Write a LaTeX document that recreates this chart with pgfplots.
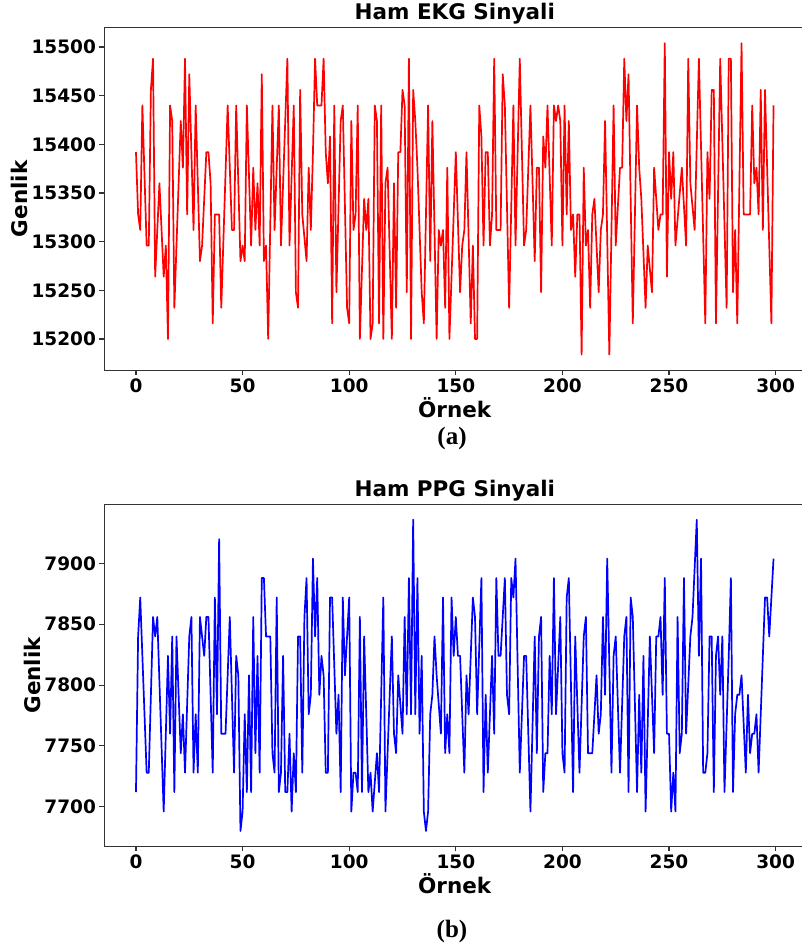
\documentclass[border=0pt]{standalone}
\usepackage{fontspec}
\setmainfont{DejaVu Sans}
\newfontfamily\serifb{Liberation Serif}
\usepackage{pgfplots}
\pgfplotsset{compat=1.18}
\begin{document}
\begin{tikzpicture}
\pgfplotsset{
 panel/.style={
  scale only axis, width=701.3pt, height=342.5pt, anchor=south west,
  xmin=-14.95, xmax=313.95,
  xtick={0,50,100,150,200,250,300}, xticklabels={0,50,100,150,200,250,300},
  scaled x ticks=false, scaled y ticks=false,
  tick align=outside, major tick length=4.7pt,
  xtick pos=bottom, ytick pos=left,
  tick style={black!80, line width=1.1pt},
  axis line style={black!80, line width=1.1pt},
  ticklabel style={font=\fontsize{18.5}{22}\selectfont\bfseries},
  label style={font=\fontsize{21.5}{25}\selectfont\bfseries},
  xlabel style={yshift=2pt},
  ylabel style={yshift=-3pt},
  xlabel={Örnek}, ylabel={Genlik},
 }}
\begin{axis}[panel, name=top, at={(104.1pt,580.9pt)},
  ymin=15168, ymax=15520,
  ytick={15200,15250,15300,15350,15400,15450,15500},
  yticklabels={15200,15250,15300,15350,15400,15450,15500}]
\addplot[color=red, line width=1.7pt, line join=round] coordinates {
(0,15392)(1,15328)(2,15312)(3,15440)(5,15296)(6,15296)(7,15456)(8,15488)(9,15264)(11,15360)(13,15264)(14,15296)(15,15200)(16,15440)(17,15424)(18,15232)(21,15424)(22,15376)(23,15488)(24,15328)(25,15472)(27,15312)(28,15440)(30,15280)(31,15296)(33,15392)(34,15392)(35,15360)(36,15216)(37,15328)(38,15328)(39,15328)(40,15232)(43,15440)(45,15312)(46,15312)(47,15440)(49,15280)(50,15296)(51,15280)(52,15440)(54,15296)(55,15376)(56,15312)(57,15360)(58,15296)(59,15472)(60,15280)(61,15296)(62,15200)(64,15440)(65,15312)(67,15440)(68,15296)(71,15488)(72,15296)(74,15440)(75,15248)(76,15232)(77,15456)(78,15328)(80,15280)(81,15376)(82,15312)(83,15392)(84,15488)(85,15440)(86,15440)(87,15440)(88,15488)(89,15392)(90,15360)(91,15408)(92,15216)(93,15440)(94,15248)(96,15424)(97,15440)(99,15232)(100,15216)(101,15424)(102,15312)(103,15328)(104,15440)(105,15200)(107,15344)(108,15312)(109,15344)(110,15200)(111,15216)(112,15440)(113,15424)(114,15216)(115,15440)(116,15200)(117,15360)(118,15376)(120,15200)(121,15360)(122,15232)(123,15392)(124,15392)(125,15456)(126,15440)(127,15248)(128,15488)(129,15200)(130,15456)(131,15424)(132,15376)(133,15312)(134,15248)(135,15216)(137,15440)(138,15280)(139,15424)(141,15200)(142,15312)(143,15296)(144,15312)(145,15232)(146,15376)(147,15200)(150,15392)(152,15248)(153,15296)(154,15312)(155,15392)(157,15216)(158,15296)(159,15200)(160,15200)(161,15440)(162,15408)(163,15296)(164,15392)(165,15392)(166,15296)(167,15328)(168,15488)(169,15312)(170,15312)(171,15312)(172,15472)(173,15440)(175,15232)(177,15440)(178,15296)(180,15488)(182,15296)(183,15312)(185,15440)(187,15280)(188,15376)(189,15376)(190,15248)(191,15408)(192,15376)(193,15440)(195,15296)(196,15440)(197,15424)(198,15440)(199,15424)(200,15296)(201,15440)(202,15328)(203,15424)(204,15312)(205,15328)(206,15264)(207,15328)(208,15328)(209,15184)(210,15376)(211,15296)(212,15312)(213,15232)(214,15328)(215,15344)(217,15248)(218,15312)(219,15328)(220,15424)(222,15184)(224,15440)(225,15296)(227,15376)(228,15376)(229,15488)(230,15424)(231,15472)(233,15216)(235,15440)(236,15376)(237,15344)(239,15232)(240,15296)(242,15248)(243,15376)(245,15312)(246,15328)(247,15328)(248,15504)(249,15264)(250,15392)(251,15344)(252,15392)(253,15296)(256,15376)(258,15296)(259,15488)(260,15360)(262,15312)(264,15488)(267,15216)(268,15392)(269,15344)(270,15456)(271,15456)(272,15216)(274,15488)(277,15232)(278,15488)(279,15488)(280,15248)(281,15312)(282,15216)(284,15504)(285,15328)(286,15328)(287,15328)(288,15328)(289,15440)(290,15360)(291,15376)(292,15328)(293,15456)(294,15312)(295,15456)(298,15216)(299,15440)
};
\end{axis}
\begin{axis}[panel, name=bot, at={(104.1pt,104.4pt)},
  ymin=7667.2, ymax=7948.8,
  ytick={7700,7750,7800,7850,7900},
  yticklabels={7700,7750,7800,7850,7900}]
\addplot[color=blue, line width=1.7pt, line join=round] coordinates {
(0,7712)(1,7840)(2,7872)(5,7728)(6,7728)(8,7856)(9,7840)(10,7856)(13,7696)(15,7824)(16,7760)(17,7840)(18,7712)(19,7840)(21,7744)(22,7776)(23,7728)(25,7840)(26,7856)(27,7728)(28,7776)(29,7728)(30,7856)(32,7824)(33,7856)(34,7856)(36,7728)(37,7872)(38,7776)(39,7920)(40,7760)(41,7760)(42,7760)(44,7856)(46,7728)(47,7824)(48,7808)(49,7680)(50,7696)(51,7776)(52,7712)(53,7808)(54,7712)(55,7856)(56,7744)(57,7824)(58,7728)(59,7888)(60,7888)(61,7840)(62,7840)(63,7840)(64,7744)(65,7728)(66,7872)(67,7712)(68,7728)(69,7824)(70,7712)(71,7712)(72,7760)(73,7696)(74,7744)(75,7712)(76,7840)(77,7840)(78,7728)(79,7856)(80,7888)(81,7776)(82,7792)(83,7904)(84,7840)(85,7888)(86,7792)(87,7824)(88,7808)(89,7728)(90,7728)(91,7872)(92,7872)(94,7760)(95,7792)(96,7712)(97,7872)(98,7808)(100,7872)(101,7696)(102,7728)(103,7728)(104,7712)(105,7856)(106,7712)(107,7840)(109,7712)(110,7728)(111,7696)(113,7744)(114,7712)(116,7872)(117,7696)(120,7840)(121,7760)(122,7744)(123,7808)(125,7760)(126,7856)(127,7776)(128,7888)(129,7776)(130,7936)(131,7776)(132,7888)(133,7760)(134,7824)(135,7696)(136,7680)(137,7696)(138,7776)(139,7792)(140,7840)(141,7808)(143,7760)(144,7872)(145,7744)(146,7776)(147,7744)(148,7872)(149,7824)(150,7856)(151,7824)(152,7824)(154,7728)(155,7808)(156,7776)(158,7872)(159,7856)(160,7776)(162,7888)(163,7712)(164,7792)(165,7728)(167,7824)(168,7760)(169,7888)(170,7824)(171,7824)(173,7888)(174,7792)(175,7776)(176,7888)(177,7872)(178,7904)(180,7728)(182,7824)(183,7824)(185,7696)(187,7840)(188,7744)(189,7840)(190,7856)(191,7712)(192,7744)(193,7744)(194,7824)(195,7776)(196,7888)(197,7776)(199,7856)(200,7744)(201,7728)(202,7872)(203,7888)(205,7712)(206,7840)(208,7728)(210,7840)(211,7856)(212,7744)(213,7744)(214,7744)(216,7808)(217,7760)(218,7776)(219,7856)(220,7792)(221,7904)(223,7728)(224,7824)(225,7840)(227,7728)(229,7840)(230,7856)(231,7712)(232,7872)(233,7856)(235,7712)(236,7792)(237,7728)(238,7824)(239,7696)(241,7840)(243,7744)(244,7840)(245,7840)(246,7856)(247,7792)(248,7888)(249,7760)(250,7760)(251,7696)(252,7728)(253,7696)(254,7856)(255,7744)(256,7760)(257,7888)(258,7760)(260,7840)(261,7856)(263,7936)(264,7824)(265,7904)(266,7728)(267,7728)(268,7744)(269,7840)(270,7840)(271,7712)(272,7824)(273,7840)(274,7792)(275,7840)(276,7712)(278,7824)(279,7888)(280,7712)(281,7776)(282,7792)(283,7792)(284,7808)(286,7728)(287,7792)(288,7744)(289,7760)(290,7760)(291,7776)(292,7728)(295,7872)(296,7872)(297,7840)(299,7904)
};
\end{axis}
\node[anchor=base, yshift=8pt, font=\fontsize{21.5}{25}\selectfont\bfseries] at (top.north) {Ham EKG Sinyali};
\node[anchor=base, yshift=8pt, font=\fontsize{21.5}{25}\selectfont\bfseries] at (bot.north) {Ham PPG Sinyali};
\node[font=\serifb\bfseries\fontsize{25}{28}\selectfont] at (452pt,513pt) {(a)};
\node[font=\serifb\bfseries\fontsize{25}{28}\selectfont] at (452pt,20pt) {(b)};
\pgfresetboundingbox
\useasboundingbox (0pt,0pt) rectangle (801pt,951pt);
\end{tikzpicture}
\end{document}
